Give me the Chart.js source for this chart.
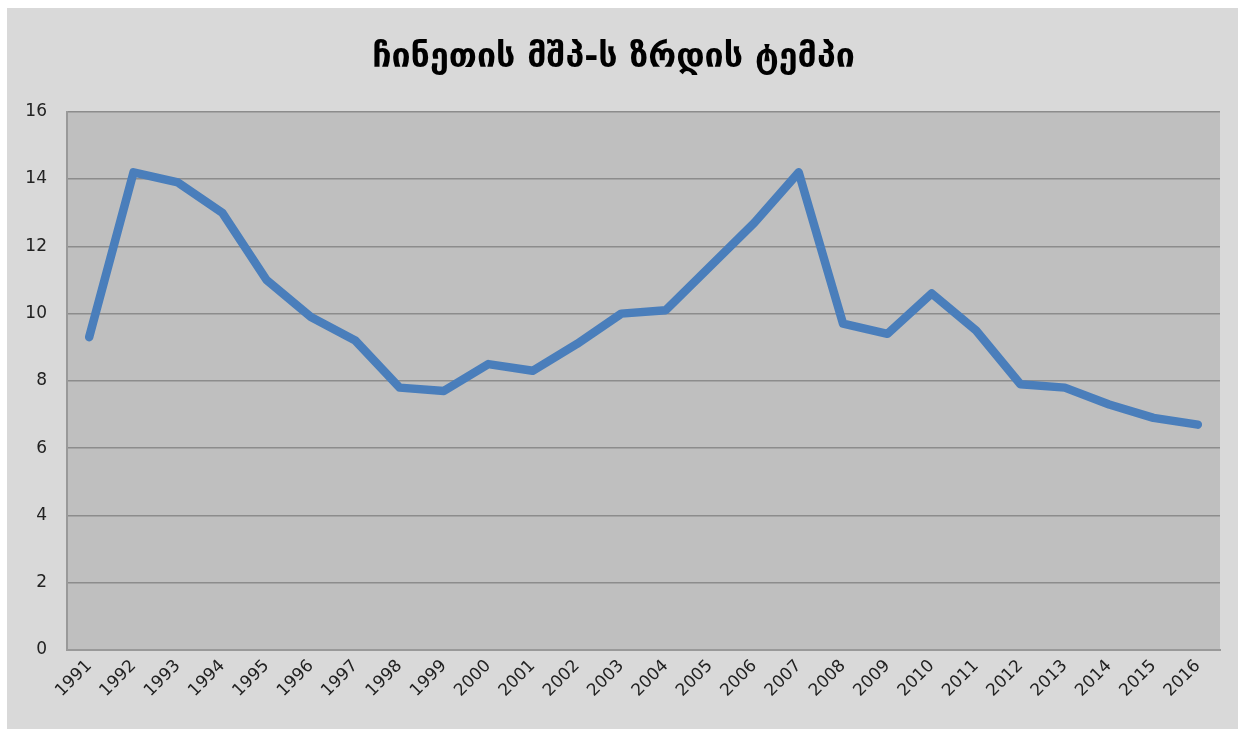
<!DOCTYPE html>
<html>
<head>
<meta charset="utf-8">
<script src="https://cdn.jsdelivr.net/npm/chart.js@4"></script>
<style>
    html, body { margin: 0; padding: 0; background: #fff; }
    #wrap { position: absolute; left: 7px; top: 8px; width: 1231px; height: 721px; background: #d9d9d9; }
</style>
</head>
<body>
<div id="wrap"><canvas id="gdpChart" width="1231" height="721"></canvas></div>
<script>
const years = ['1991', '1992', '1993', '1994', '1995', '1996', '1997', '1998', '1999', '2000',
    '2001', '2002', '2003', '2004', '2005', '2006', '2007', '2008', '2009', '2010',
    '2011', '2012', '2013', '2014', '2015', '2016'];
const growthRate = [9.3, 14.2, 13.9, 13.0, 11.0, 9.9, 9.2, 7.8, 7.7, 8.5,
    8.3, 9.1, 10.0, 10.1, 11.4, 12.7, 14.2, 9.7, 9.4, 10.6,
    9.5, 7.9, 7.8, 7.3, 6.9, 6.7];
const yTicks = [0, 2, 4, 6, 8, 10, 12, 14, 16];
const chartTitle = 'ჩინეთის მშპ-ს ზრდის ტემპი';

// grey plot area like the spreadsheet chart
const plotBackground = {
    id: 'plotBackground',
    beforeDraw(chart) {
        const { ctx, chartArea } = chart;
        ctx.save();
        ctx.fillStyle = '#bfbfbf';
        ctx.fillRect(chartArea.left, chartArea.top, chartArea.right - chartArea.left, chartArea.bottom - chartArea.top);
        ctx.restore();
    }
};

const ctx = document.getElementById('gdpChart').getContext('2d');

new Chart(ctx, {
    type: 'line',
    data: {
        labels: years,
        datasets: [{
            data: growthRate,
            borderColor: '#4a7ebb',
            borderWidth: 8.5,
            pointRadius: 0,
            tension: 0,
            borderCapStyle: 'round',
            borderJoinStyle: 'round',
            fill: false
        }]
    },
    options: {
        responsive: false,
        animation: false,
        layout: { padding: { left: 0, right: 18, top: 0, bottom: 0 } },
        plugins: {
            legend: { display: false },
            tooltip: { enabled: false },
            title: {
                display: true,
                text: chartTitle,
                color: '#000',
                font: { family: 'DejaVu Sans', size: 34, weight: 'bold' },
                padding: { top: 30, bottom: 33 }
            }
        },
        scales: {
            x: {
                offset: true,
                grid: { display: false, drawTicks: false },
                border: { color: '#999', width: 2 },
                ticks: {
                    color: '#222',
                    font: { family: 'DejaVu Sans', size: 17 },
                    minRotation: 45,
                    maxRotation: 45,
                    padding: 6,
                    autoSkip: false
                },
                afterFit(scale) { scale.height = 79; }
            },
            y: {
                min: 0,
                max: 16,
                afterBuildTicks(scale) { scale.ticks = yTicks.map(v => ({ value: v })); },
                grid: { color: '#8c8c8c', lineWidth: 1.5, drawTicks: false },
                border: { color: '#999', width: 2 },
                ticks: {
                    color: '#222',
                    font: { family: 'DejaVu Sans', size: 17 },
                    padding: 20
                },
                afterFit(scale) { scale.width = 60; }
            }
        }
    },
    plugins: [plotBackground]
});
</script>
</body>
</html>
